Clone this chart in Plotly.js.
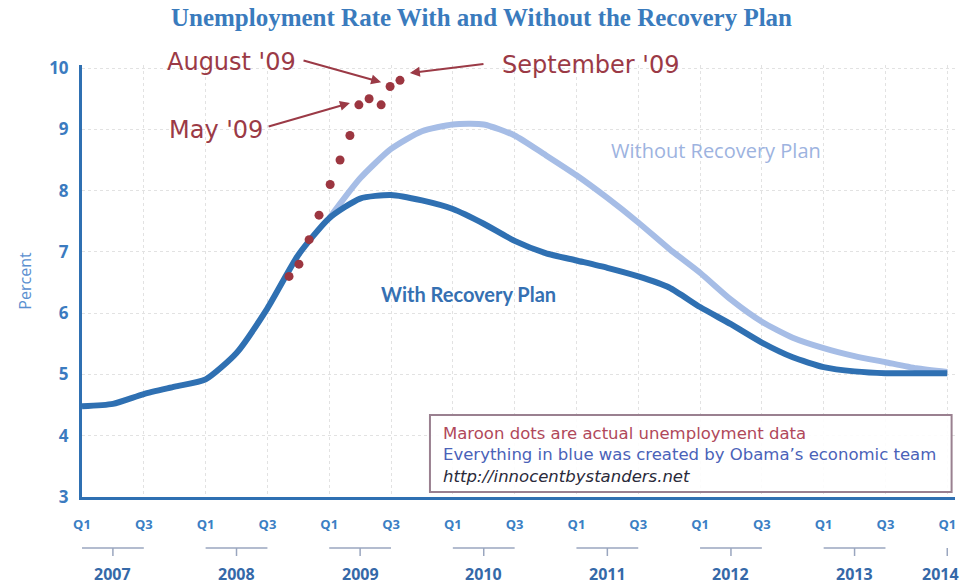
<!DOCTYPE html>
<html>
<head>
<meta charset="utf-8">
<script src="https://cdn.plot.ly/plotly-3.0.1.min.js"></script>
<style>html,body{margin:0;padding:0;background:#fff;}#chart{width:963px;height:585px;}</style>
</head>
<body>
<div id="chart"></div>
<script>
// ---- data (quarters indexed 0 = Q1 2007 ... 28 = Q1 2014) ----
const quarterLabels = ['2007 Q1','2007 Q2','2007 Q3','2007 Q4','2008 Q1','2008 Q2','2008 Q3','2008 Q4',
  '2009 Q1','2009 Q2','2009 Q3','2009 Q4','2010 Q1','2010 Q2','2010 Q3','2010 Q4',
  '2011 Q1','2011 Q2','2011 Q3','2011 Q4','2012 Q1','2012 Q2','2012 Q3','2012 Q4',
  '2013 Q1','2013 Q2','2013 Q3','2013 Q4','2014 Q1'];
const withPlan = [4.48,4.52,4.68,4.80,4.92,5.35,6.08,6.95,7.55,7.87,7.93,7.84,7.70,7.46,7.18,6.98,
  6.86,6.74,6.60,6.42,6.10,5.82,5.52,5.28,5.12,5.05,5.02,5.02,5.02];
const withoutQuarters = ['2009 Q1','2009 Q2','2009 Q3','2009 Q4','2010 Q1','2010 Q2','2010 Q3','2010 Q4',
  '2011 Q1','2011 Q2','2011 Q3','2011 Q4','2012 Q1','2012 Q2','2012 Q3','2012 Q4',
  '2013 Q1','2013 Q2','2013 Q3','2013 Q4','2014 Q1'];
const withoutPlan = [7.55,8.20,8.68,8.97,9.08,9.08,8.90,8.58,8.25,7.88,7.48,7.05,6.66,6.22,5.86,5.60,
  5.43,5.30,5.20,5.10,5.04];
const actualMonths = ["Oct '08","Nov '08","Dec '08","Jan '09","Feb '09","Mar '09","Apr '09","May '09","Jun '09","Jul '09","Aug '09","Sep '09"];
const actualPos = [6.70,7.02,7.35,7.67,8.03,8.35,8.67,8.96,9.29,9.68,9.97,10.29];
const actualRate = [6.6,6.8,7.2,7.6,8.1,8.5,8.9,9.4,9.5,9.4,9.7,9.8];
const tickPos = [0,2,4,6,8,10,12,14,16,18,20,22,24,26,28];
const tickText = ['Q1','Q3','Q1','Q3','Q1','Q3','Q1','Q3','Q1','Q3','Q1','Q3','Q1','Q3','Q1'];
const yearLabels = ['2007','2008','2009','2010','2011','2012','2013','2014'];
const yearStart = [0,4,8,12,16,20,24,28];
const yearEnd = [2,6,10,14,18,22,26,28];

const idx = q => quarterLabels.indexOf(q);

const BLUE = '#2f70b2', LIGHT = '#a6bde6', MAROON = '#9c3640';

const traces = [
  {x: withoutQuarters.map(idx), y: withoutPlan, type:'scatter', mode:'lines',
   line:{color:LIGHT, width:6, shape:'spline', smoothing:0.6}, hoverinfo:'skip'},
  {x: quarterLabels.map(idx), y: withPlan, type:'scatter', mode:'lines',
   line:{color:BLUE, width:6, shape:'spline', smoothing:0.6}, hoverinfo:'skip'},
  {x: actualPos, y: actualRate, text: actualMonths, type:'scatter', mode:'markers',
   marker:{color:MAROON, size:9}, hoverinfo:'text'}
];

const annotations = [];
const shapes = [];
yearLabels.forEach((yl,i)=>{
  const c = (yearStart[i]+yearEnd[i])/2;
  const last = (i === yearLabels.length - 1);
  annotations.push({xref:'x', yref:'paper', x:c, y:0, yshift:-77, yanchor:'middle',
    xanchor: last ? 'right' : 'center', xshift: last ? 14 : 0, showarrow:false,
    text:yl, font:{family:'Open Sans, sans-serif', size:16, color:'#3569a8', weight:'bold'}});
  if (yearEnd[i] > yearStart[i]) {
    shapes.push({type:'line', xref:'x', yref:'paper', ysizemode:'pixel', yanchor:0,
      x0:yearStart[i], x1:yearEnd[i], y0:-51, y1:-51, line:{color:'#9aa6bf', width:1.5}});
  }
  shapes.push({type:'line', xref:'x', yref:'paper', ysizemode:'pixel', yanchor:0,
    x0:c, x1:c, y0:-51, y1:-59, line:{color:'#9aa6bf', width:1.5}});
});

const labelFont = {family:'DejaVu Sans, sans-serif', size:24, color:'#9b3a46'};
annotations.push(
  {xref:'x', yref:'paper', x:4.85, y:(497-62)/432, yanchor:'middle', text:"August '09", showarrow:false, font:labelFont},
  {xref:'x', yref:'y', x:4.34, y:8.99, text:"May '09", showarrow:false, font:labelFont},
  {xref:'x', yref:'paper', x:16.44, y:(497-65)/432, yanchor:'middle', text:"September '09", showarrow:false, font:labelFont},
  {xref:'x', yref:'y', x:9.68, y:9.77, axref:'x', ayref:'y', ax:7.12, ay:10.13, text:'', showarrow:true,
   arrowhead:2, arrowsize:1, arrowwidth:2, arrowcolor:'#9b3a46'},
  {xref:'x', yref:'y', x:8.67, y:9.43, axref:'x', ayref:'y', ax:5.99, ay:9.04, text:'', showarrow:true,
   arrowhead:2, arrowsize:1, arrowwidth:2, arrowcolor:'#9b3a46'},
  {xref:'x', yref:'y', x:10.61, y:9.92, axref:'x', ayref:'y', ax:13.04, ay:10.07, text:'', showarrow:true,
   arrowhead:2, arrowsize:1, arrowwidth:2, arrowcolor:'#9b3a46'},
  {xref:'x', yref:'y', x:20.52, y:8.66, text:'Without Recovery Plan', showarrow:false,
   font:{family:'Open Sans, sans-serif', size:20, color:'#9db3df'}},
  {xref:'x', yref:'y', x:12.52, y:6.31, text:'With Recovery Plan', showarrow:false,
   font:{family:'Lato, sans-serif', size:20, color:'#3570b2', weight:'bold'}},
  {xref:'x', yref:'y', x:11.63, y:3.69, xanchor:'left', yanchor:'middle', align:'left', showarrow:false,
   font:{family:'DejaVu Sans, sans-serif', size:16.5},
   text:"<span style='color:#b0485a'>Maroon dots are actual unemployment data</span><br>" +
        "<span style='color:#4a62b8'>Everything in blue was created by Obama’s economic team</span><br>" +
        "<span style='color:#2a2a3a'><i>http://innocentbystanders.net</i></span>"}
);
shapes.push({type:'rect', xref:'x', yref:'y', x0:11.26, x1:28.14, y0:3.08, y1:4.34,
  line:{color:'#9a8090', width:2}, fillcolor:'rgba(255,255,255,0.9)', layer:'above'});

const layout = {
  width:963, height:585,
  margin:{l:82, r:8, t:65, b:88},
  paper_bgcolor:'#ffffff', plot_bgcolor:'#ffffff',
  showlegend:false,
  title:{text:'Unemployment Rate With and Without the Recovery Plan', x:0.5, xref:'container',
    y:1-17/585, yref:'container', yanchor:'middle',
    font:{family:'Liberation Serif, serif', size:25, color:'#3a7bbd', weight:'bold'}},
  xaxis:{range:[0,28.25], tickvals:tickPos, ticktext:tickText, ticks:'', ticklabelstandoff:13,
    showline:true, linecolor:BLUE, linewidth:3, zeroline:false,
    showgrid:true, gridcolor:'#e2e2e2', griddash:'dot', gridwidth:1,
    tickfont:{family:'Open Sans, sans-serif', size:13, color:'#3b7fc4', weight:'bold'}},
  yaxis:{range:[3,10.05], tickvals:[3,4,5,6,7,8,9,10], ticks:'', ticklabelstandoff:7,
    showline:true, linecolor:BLUE, linewidth:3, zeroline:false,
    showgrid:true, gridcolor:'#e2e2e2', griddash:'dot', gridwidth:1,
    tickfont:{family:'Open Sans, sans-serif', size:17, color:'#3b7bc0', weight:'bold'},
    title:{text:'Percent', standoff:14, font:{family:'Open Sans, sans-serif', size:16, color:'#5a8fd0'}}},
  annotations:annotations,
  shapes:shapes
};

Plotly.newPlot('chart', traces, layout, {staticPlot:true, displayModeBar:false});
</script>
</body>
</html>
